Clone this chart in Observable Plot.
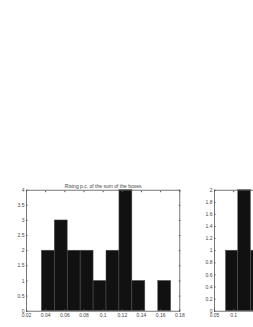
<!DOCTYPE html>
<html><head><meta charset="utf-8">
<script src="https://cdn.jsdelivr.net/npm/d3@7"></script>
<script src="https://cdn.jsdelivr.net/npm/@observablehq/plot@0.6"></script>
<style>
body{margin:0;background:#fff;}
#wrap{position:relative;width:253px;height:327px;overflow:hidden;background:#fff;}
#wrap svg{position:absolute;left:0;top:0;max-width:none !important;}
</style></head><body><div id="wrap"></div>
<script>
const title1 = "Rising p.c. of the sum of the boxes";
const binEdges1 = [0.036, 0.0495, 0.063, 0.0765, 0.09, 0.1035, 0.117, 0.1305, 0.144, 0.1575, 0.171];
const counts1 = [2, 3, 2, 2, 1, 2, 4, 1, 0, 1];
const xTicks1 = [0.02, 0.04, 0.06, 0.08, 0.1, 0.12, 0.14, 0.16, 0.18];
const xTickLabels1 = ["0.02","0.04","0.06","0.08","0.1","0.12","0.14","0.16","0.18"];
const yTicks1 = [0, 0.5, 1, 1.5, 2, 2.5, 3, 3.5, 4];
const yTickLabels1 = ["0","0.5","1","1.5","2","2.5","3","3.5","4"];

const binEdges2 = [0.08, 0.112, 0.145, 0.178];
const counts2 = [1, 2, 1];
const xTicks2 = [0.05, 0.1];
const xTickLabels2 = ["0.05","0.1"];
const yTicks2 = [0, 0.2, 0.4, 0.6, 0.8, 1, 1.2, 1.4, 1.6, 1.8, 2];
const yTickLabels2 = ["0","0.2","0.4","0.6","0.8","1","1.2","1.4","1.6","1.8","2"];

function bars(edges, counts){
  return counts.map((c,i)=>({x1:edges[i], x2:edges[i+1], y:c}));
}
const axisColor = "#555", textColor = "#444";
function makeChart(opts){
  const {edges, counts, xTicks, xLabels, yTicks, yLabels, xDomain, yDomain, ml, width, title} = opts;
  const fx = d => xLabels[xTicks.indexOf(d)];
  const fy = d => yLabels[yTicks.indexOf(d)];
  const marks = [
    Plot.rectY(bars(edges, counts).filter(d=>d.y>0), {x1:"x1", x2:"x2", y:"y", fill:"#111", stroke:"#555", strokeWidth:0.5}),
    Plot.frame({stroke:axisColor, strokeWidth:0.8}),
    Plot.axisX(xTicks, {anchor:"bottom", label:null, tickSize:-1.5, tickPadding:4, tickFormat:fx, stroke:axisColor, fill:textColor}),
    Plot.axisX(xTicks, {anchor:"top", label:null, tickSize:-1.5, tickFormat:()=>"", stroke:axisColor}),
    Plot.axisY(yTicks, {anchor:"left", label:null, tickSize:-1.5, tickPadding:3.5, tickFormat:fy, stroke:axisColor, fill:textColor}),
    Plot.axisY(yTicks, {anchor:"right", label:null, tickSize:-1.5, tickFormat:()=>"", stroke:axisColor})
  ];
  if (title) marks.push(Plot.text([title], {frameAnchor:"top", dy:-6, fill:textColor, fontSize:5}));
  return Plot.plot({
    width, height:327,
    marginLeft:ml, marginRight:width-ml-153.3, marginTop:189.7, marginBottom:16.3,
    style:{fontFamily:"Liberation Sans, DejaVu Sans, sans-serif", fontSize:"5px", background:"transparent", overflow:"visible", maxWidth:"none"},
    x:{domain:xDomain, label:null},
    y:{domain:yDomain, label:null},
    marks
  });
}
const wrap = document.getElementById("wrap");
wrap.append(makeChart({edges:binEdges1, counts:counts1, xTicks:xTicks1, xLabels:xTickLabels1, yTicks:yTicks1, yLabels:yTickLabels1, xDomain:[0.02,0.18], yDomain:[0,4], ml:26, width:253, title:title1}));
wrap.append(makeChart({edges:binEdges2, counts:counts2, xTicks:xTicks2, xLabels:xTickLabels2, yTicks:yTicks2, yLabels:yTickLabels2, xDomain:[0.05,0.45], yDomain:[0,2], ml:214, width:400}));
</script></body></html>
